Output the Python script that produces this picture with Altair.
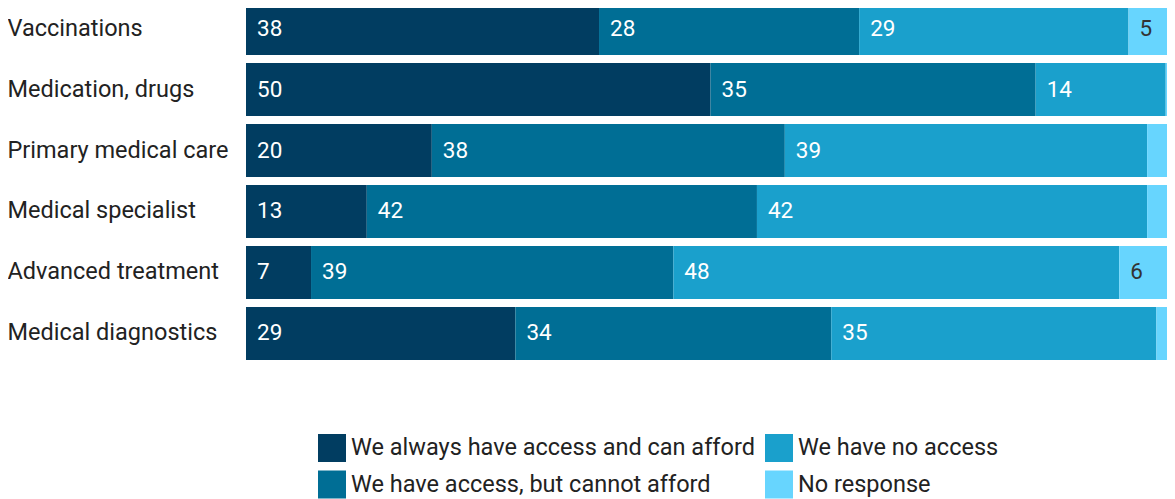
import altair as alt
import pandas as pd

categories = ["Vaccinations", "Medication, drugs", "Primary medical care",
              "Medical specialist", "Advanced treatment", "Medical diagnostics"]
series = ["We always have access and can afford", "We have access, but cannot afford",
          "We have no access", "No response"]
always = [38, 50, 20, 13, 7, 29]
cannot_afford = [28, 35, 38, 42, 39, 34]
no_access = [29, 14, 39, 42, 48, 35]
no_response = [5, 1, 3, 3, 6, 2]
colors = ["#013d61", "#006e95", "#1aa0cc", "#67d5fe"]

values = [always, cannot_afford, no_access, no_response]
rows = []
for si, (s, vals) in enumerate(zip(series, values)):
    for c, v in zip(categories, vals):
        rows.append({"category": c, "series": s, "value": v, "order": si})
df = pd.DataFrame(rows)

FONT = "Roboto"

base = alt.Chart(df).transform_stack(
    stack="value", groupby=["category"], sort=[alt.SortField("order")], as_=["x0", "x1"]
)

y = alt.Y(
    "category:N", sort=categories,
    scale=alt.Scale(paddingInner=0.131, paddingOuter=0, range=[-6, 352]),
    axis=alt.Axis(title=None, domain=False, ticks=False, labelAlign="left",
                  labelPadding=239, labelFontSize=23.5, labelColor="#222222",
                  labelFont=FONT, labelLimit=400),
)
x_scale = alt.Scale(domain=[0, 100], range=[0, 929])

bars = base.mark_bar().encode(
    x=alt.X("x0:Q", scale=x_scale, axis=None),
    x2="x1:Q",
    y=y,
    color=alt.Color(
        "series:N",
        scale=alt.Scale(domain=series, range=colors),
        legend=alt.Legend(title=None, orient="none", legendX=72, legendY=426,
                          columns=2, symbolType="square", symbolSize=784,
                          symbolStrokeWidth=0, labelFontSize=23.5, labelFont=FONT,
                          labelColor="#222222", labelLimit=600, columnPadding=10,
                          rowPadding=8.5, labelOffset=5),
    ),
)

labels = base.transform_filter(alt.datum.value >= 5).mark_text(
    align="left", baseline="middle", dx=11, fontSize=22.5, font=FONT
).encode(
    x=alt.X("x0:Q", scale=x_scale),
    y=alt.Y("category:N", sort=categories),
    text="value:Q",
    color=alt.condition(alt.datum.series == "No response",
                        alt.value("#333333"), alt.value("white")),
)

chart = alt.layer(bars, labels).properties(
    width=921, height=358,
    padding={"left": 238, "top": 0, "right": 0, "bottom": 133},
    autosize=alt.AutoSizeParams(type="none"),
).configure_view(stroke=None)

chart.save("out.html", embed_options={"renderer": "svg", "actions": False})
